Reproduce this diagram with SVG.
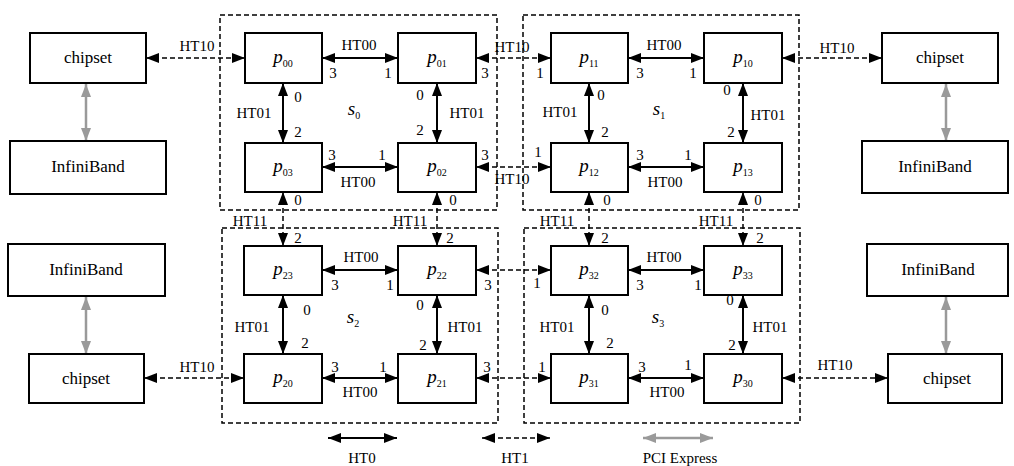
<svg xmlns="http://www.w3.org/2000/svg" width="1014" height="466" viewBox="0 0 1014 466">
<style>
.box{fill:#fff;stroke:#000;stroke-width:2}
.grp{fill:none;stroke:#000;stroke-width:1.5;stroke-dasharray:5 3}
text{font-family:"Liberation Serif","DejaVu Serif","Times New Roman",serif}
.t{font-size:15px;fill:#000;text-anchor:middle}
.bt{font-size:17px;fill:#000;text-anchor:middle}
.pn{font-size:19px;font-style:italic;fill:#000;text-anchor:middle}
.sub{font-size:10px;font-style:normal}
.solid{fill:none;stroke:#000;stroke-width:2;marker-start:url(#ah);marker-end:url(#ah)}
.dash{fill:none;stroke:#000;stroke-width:1.5;stroke-dasharray:5 3;marker-start:url(#ah);marker-end:url(#ah)}
.pci{fill:none;stroke:#9a9a9a;stroke-width:2.5;marker-start:url(#ag);marker-end:url(#ag)}
</style>
<defs>
<marker id="ah" viewBox="0 0 13 10" refX="13" refY="5" markerWidth="13" markerHeight="10" markerUnits="userSpaceOnUse" orient="auto-start-reverse"><path d="M0,0 L13,5 L0,10 z" fill="#000"/></marker>
<marker id="ag" viewBox="0 0 13 10" refX="13" refY="5" markerWidth="13" markerHeight="10" markerUnits="userSpaceOnUse" orient="auto-start-reverse"><path d="M0,0 L13,5 L0,10 z" fill="#9a9a9a"/></marker>
</defs>
<rect width="1014" height="466" fill="#fff"/>

<g id="groups">
<rect id="s0" class="grp" x="220" y="15" width="277" height="195"/>
<rect id="s1" class="grp" x="523" y="15" width="276" height="195"/>
<rect id="s2" class="grp" x="222" y="228" width="276" height="195"/>
<rect id="s3" class="grp" x="524" y="228" width="276" height="195"/>
<text class="pn" x="354" y="115" font-family="Liberation Serif, serif">s<tspan class="sub" dy="4">0</tspan></text>
<text class="pn" x="659" y="115" font-family="Liberation Serif, serif">s<tspan class="sub" dy="4">1</tspan></text>
<text class="pn" x="353" y="323" font-family="Liberation Serif, serif">s<tspan class="sub" dy="4">2</tspan></text>
<text class="pn" x="658" y="323" font-family="Liberation Serif, serif">s<tspan class="sub" dy="4">3</tspan></text>
</g>

<g id="connectors">
<path class="solid" d="M322,58 L398,58"/>
<path class="solid" d="M322,167 L398,167"/>
<path class="solid" d="M628,58 L704,58"/>
<path class="solid" d="M628,167 L704,167"/>
<path class="solid" d="M283,83 L283,143"/>
<path class="solid" d="M437,83 L437,143"/>
<path class="solid" d="M589,83 L589,143"/>
<path class="solid" d="M743,83 L743,143"/>
<path class="solid" d="M322,270 L398,270"/>
<path class="solid" d="M322,378 L398,378"/>
<path class="solid" d="M628,270 L704,270"/>
<path class="solid" d="M628,378 L704,378"/>
<path class="solid" d="M283,295 L283,354"/>
<path class="solid" d="M437,295 L437,354"/>
<path class="solid" d="M589,295 L589,354"/>
<path class="solid" d="M743,295 L743,354"/>

<path class="dash" d="M146,58 L245,58"/>
<path class="dash" d="M476,58 L551,58"/>
<path class="dash" d="M782,58 L882,58"/>
<path class="dash" d="M476,167 L551,167"/>
<path class="dash" d="M283,192 L283,246"/>
<path class="dash" d="M437,192 L437,246"/>
<path class="dash" d="M589,192 L589,246"/>
<path class="dash" d="M743,192 L743,246"/>
<path class="dash" d="M476,270 L551,270"/>
<path class="dash" d="M476,378 L551,378"/>
<path class="dash" d="M144,378 L244,378"/>
<path class="dash" d="M782,378 L888,378"/>

<path class="pci" d="M86,84 L86,141"/>
<path class="pci" d="M86,297 L86,354"/>
<path class="pci" d="M946,84 L946,141"/>
<path class="pci" d="M946,297 L946,354"/>

<text class="t" x="197" y="51">HT10</text>
<text class="t" x="359" y="50">HT00</text>
<text class="t" x="512" y="52">HT10</text>
<text class="t" x="664" y="50">HT00</text>
<text class="t" x="837" y="53">HT10</text>
<text class="t" x="254" y="118">HT01</text>
<text class="t" x="467" y="118">HT01</text>
<text class="t" x="560" y="117">HT01</text>
<text class="t" x="768" y="120">HT01</text>
<text class="t" x="358" y="187">HT00</text>
<text class="t" x="512" y="184">HT10</text>
<text class="t" x="665" y="187">HT00</text>
<text class="t" x="250" y="226">HT11</text>
<text class="t" x="410" y="226">HT11</text>
<text class="t" x="557" y="226">HT11</text>
<text class="t" x="716" y="226">HT11</text>
<text class="t" x="361" y="262">HT00</text>
<text class="t" x="664" y="262">HT00</text>
<text class="t" x="252" y="332">HT01</text>
<text class="t" x="465" y="332">HT01</text>
<text class="t" x="557" y="332">HT01</text>
<text class="t" x="770" y="332">HT01</text>
<text class="t" x="360" y="397">HT00</text>
<text class="t" x="667" y="397">HT00</text>
<text class="t" x="197" y="372">HT10</text>
<text class="t" x="835" y="370">HT10</text>

<text class="t" x="333" y="78">3</text>
<text class="t" x="388" y="78">1</text>
<text class="t" x="485" y="78">3</text>
<text class="t" x="540" y="78">1</text>
<text class="t" x="640" y="78">3</text>
<text class="t" x="693" y="78">1</text>
<text class="t" x="298" y="102">0</text>
<text class="t" x="298" y="137">2</text>
<text class="t" x="420" y="100">0</text>
<text class="t" x="420" y="135">2</text>
<text class="t" x="601" y="100">0</text>
<text class="t" x="605" y="137">2</text>
<text class="t" x="727" y="95">0</text>
<text class="t" x="731" y="137">2</text>
<text class="t" x="332" y="160">3</text>
<text class="t" x="382" y="160">1</text>
<text class="t" x="485" y="160">3</text>
<text class="t" x="538" y="157">1</text>
<text class="t" x="640" y="160">3</text>
<text class="t" x="688" y="160">1</text>
<text class="t" x="298" y="205">0</text>
<text class="t" x="453" y="205">0</text>
<text class="t" x="607" y="205">0</text>
<text class="t" x="758" y="205">0</text>
<text class="t" x="298" y="243">2</text>
<text class="t" x="450" y="243">2</text>
<text class="t" x="605" y="243">2</text>
<text class="t" x="760" y="243">2</text>
<text class="t" x="335" y="290">3</text>
<text class="t" x="390" y="290">1</text>
<text class="t" x="488" y="290">3</text>
<text class="t" x="537" y="288">1</text>
<text class="t" x="640" y="290">3</text>
<text class="t" x="698" y="290">1</text>
<text class="t" x="307" y="315">0</text>
<text class="t" x="305" y="348">2</text>
<text class="t" x="420" y="310">0</text>
<text class="t" x="423" y="350">2</text>
<text class="t" x="605" y="315">0</text>
<text class="t" x="610" y="348">2</text>
<text class="t" x="730" y="305">0</text>
<text class="t" x="732" y="350">2</text>
<text class="t" x="335" y="372">3</text>
<text class="t" x="383" y="372">1</text>
<text class="t" x="487" y="372">3</text>
<text class="t" x="542" y="372">1</text>
<text class="t" x="642" y="372">3</text>
<text class="t" x="688" y="370">1</text>
</g>

<g id="chipset-tl"><rect class="box" x="30" y="33" width="116" height="50"/><text class="bt" x="88" y="63">chipset</text></g>
<g id="infiniband-tl"><rect class="box" x="10" y="141" width="156" height="53"/><text class="bt" x="88" y="172">InfiniBand</text></g>
<g id="infiniband-bl"><rect class="box" x="8" y="244" width="157" height="52"/><text class="bt" x="86" y="275">InfiniBand</text></g>
<g id="chipset-bl"><rect class="box" x="29" y="354" width="115" height="49"/><text class="bt" x="86" y="384">chipset</text></g>
<g id="chipset-tr"><rect class="box" x="882" y="33" width="116" height="50"/><text class="bt" x="940" y="63">chipset</text></g>
<g id="infiniband-tr"><rect class="box" x="862" y="141" width="146" height="52"/><text class="bt" x="935" y="172">InfiniBand</text></g>
<g id="infiniband-br"><rect class="box" x="867" y="244" width="141" height="52"/><text class="bt" x="938" y="275">InfiniBand</text></g>
<g id="chipset-br"><rect class="box" x="888" y="354" width="114" height="49"/><text class="bt" x="947" y="384">chipset</text></g>

<g id="p00"><rect class="box" x="245" y="33" width="77" height="50"/><text class="pn" x="283" y="63">p<tspan class="sub" dy="4">00</tspan></text></g>
<g id="p01"><rect class="box" x="398" y="33" width="78" height="50"/><text class="pn" x="437" y="63">p<tspan class="sub" dy="4">01</tspan></text></g>
<g id="p03"><rect class="box" x="245" y="143" width="77" height="49"/><text class="pn" x="283" y="172">p<tspan class="sub" dy="4">03</tspan></text></g>
<g id="p02"><rect class="box" x="398" y="143" width="78" height="49"/><text class="pn" x="437" y="172">p<tspan class="sub" dy="4">02</tspan></text></g>
<g id="p11"><rect class="box" x="551" y="33" width="77" height="50"/><text class="pn" x="589" y="63">p<tspan class="sub" dy="4">11</tspan></text></g>
<g id="p10"><rect class="box" x="704" y="33" width="78" height="50"/><text class="pn" x="743" y="63">p<tspan class="sub" dy="4">10</tspan></text></g>
<g id="p12"><rect class="box" x="551" y="143" width="77" height="49"/><text class="pn" x="589" y="172">p<tspan class="sub" dy="4">12</tspan></text></g>
<g id="p13"><rect class="box" x="704" y="143" width="78" height="49"/><text class="pn" x="743" y="172">p<tspan class="sub" dy="4">13</tspan></text></g>
<g id="p23"><rect class="box" x="244" y="246" width="78" height="49"/><text class="pn" x="283" y="275">p<tspan class="sub" dy="4">23</tspan></text></g>
<g id="p22"><rect class="box" x="398" y="246" width="78" height="49"/><text class="pn" x="437" y="275">p<tspan class="sub" dy="4">22</tspan></text></g>
<g id="p20"><rect class="box" x="244" y="354" width="78" height="49"/><text class="pn" x="283" y="383">p<tspan class="sub" dy="4">20</tspan></text></g>
<g id="p21"><rect class="box" x="398" y="354" width="78" height="49"/><text class="pn" x="437" y="383">p<tspan class="sub" dy="4">21</tspan></text></g>
<g id="p32"><rect class="box" x="551" y="246" width="77" height="49"/><text class="pn" x="589" y="275">p<tspan class="sub" dy="4">32</tspan></text></g>
<g id="p33"><rect class="box" x="704" y="246" width="78" height="49"/><text class="pn" x="743" y="275">p<tspan class="sub" dy="4">33</tspan></text></g>
<g id="p31"><rect class="box" x="551" y="354" width="77" height="49"/><text class="pn" x="589" y="383">p<tspan class="sub" dy="4">31</tspan></text></g>
<g id="p30"><rect class="box" x="704" y="354" width="78" height="49"/><text class="pn" x="743" y="383">p<tspan class="sub" dy="4">30</tspan></text></g>

<g id="legend">
<path class="solid" d="M328,438 L397,438"/>
<text class="t" x="362" y="463">HT0</text>
<path class="dash" d="M482,438 L550,438"/>
<text class="t" x="515" y="463">HT1</text>
<path class="pci" d="M643,438 L713,438"/>
<text class="t" x="680" y="463">PCI Express</text>
</g>
</svg>
